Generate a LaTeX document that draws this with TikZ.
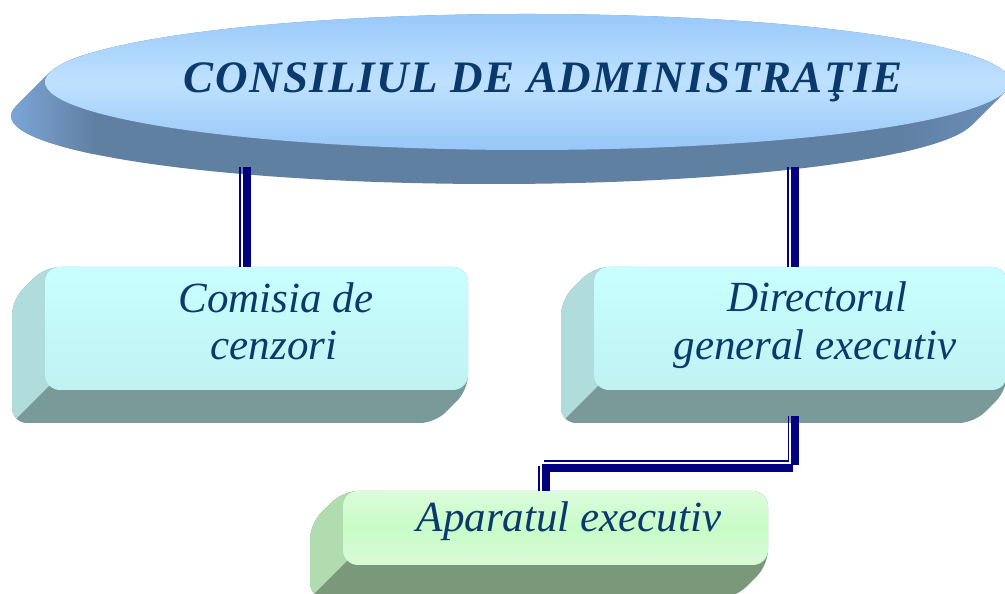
\documentclass[tikz,border=0pt]{standalone}
\usepackage{fontspec}
\setmainfont{Liberation Serif}
\newfontfamily\titlefont[LetterSpace=3.2]{Liberation Serif}
\usetikzlibrary{shapes.geometric,calc}
\definecolor{elTop}{HTML}{98C9F9}
\definecolor{elMid}{HTML}{BFE1FF}
\definecolor{elBot}{HTML}{96C7F8}
\definecolor{elSide}{HTML}{6080A2}
\definecolor{elSideL}{HTML}{7EA8DA}
\definecolor{elSideR}{HTML}{6C90BC}
\definecolor{cyTop}{HTML}{C8FFFF}
\definecolor{cyBot}{HTML}{C0F2F2}
\definecolor{cyLeft}{HTML}{B0DCDC}
\definecolor{cyDown}{HTML}{7A9A9A}
\definecolor{grTop}{HTML}{DAFCDA}
\definecolor{grMid}{HTML}{C8FCC8}
\definecolor{grBot}{HTML}{D8FAD8}
\definecolor{grLeft}{HTML}{B0DCB0}
\definecolor{grDown}{HTML}{7A987A}
\definecolor{txtBlue}{HTML}{0A3A6C}
\definecolor{lineNavy}{HTML}{000080}
\begin{document}
\begin{tikzpicture}[x=1pt,y=1pt,
  facebox/.style={rounded corners=15pt, inner sep=0pt, draw=none},
  cyface/.style={facebox, top color=cyTop, bottom color=cyBot},
  grface/.style={facebox, top color=grTop, bottom color=grBot, middle color=grMid},
  boxtext/.style={text=txtBlue, font=\fontsize{43}{48}\selectfont\itshape, inner sep=0pt, anchor=base},
  titletext/.style={text=txtBlue, font=\titlefont\fontsize{45}{50}\selectfont\bfseries\itshape, inner sep=0pt, anchor=base},
  conthick/.style={draw=lineNavy, line width=8pt},
  conthin/.style={draw=lineNavy, line width=1.8pt}]
\useasboundingbox (0,0) rectangle (1005,594);

% ---- extruded ellipse (side) ----
\fill[elSide] (527.5,512) ++(-8.02:482.5pt and 68pt)
  arc[start angle=-8.02, end angle=171.98, x radius=482.5pt, y radius=68pt]
  -- ++(-34,-34)
  arc[start angle=171.98, end angle=351.98, x radius=482.5pt, y radius=68pt] -- cycle;
\begin{scope}
\clip (527.5,512) ++(-8.02:482.5pt and 68pt)
  arc[start angle=-8.02, end angle=171.98, x radius=482.5pt, y radius=68pt]
  -- ++(-34,-34)
  arc[start angle=171.98, end angle=351.98, x radius=482.5pt, y radius=68pt] -- cycle;
\shade[left color=elSideL, right color=elSide] (5,380) rectangle (95,540);
\shade[left color=elSide, right color=elSideR] (900,380) rectangle (1010,540);
\end{scope}
\node[ellipse, minimum width=965pt, minimum height=136pt, inner sep=0pt, draw=none,
      top color=elTop, bottom color=elBot, middle color=elMid] (cons) at (527.5,512) {};
\node[titletext] (title) at (543,501) {CONSILIUL DE ADMINISTRAŢIE};

% ---- box 1 extrusion ----
\fill[cyDown, rounded corners=15pt] (45,327) -- (468,327) -- (468,204) -- (435,171) -- (12,171) -- (12,294) -- cycle;
\begin{scope}
\clip[rounded corners=15pt] (45,327) -- (468,327) -- (468,204) -- (435,171) -- (12,171) -- (12,294) -- cycle;
\fill[cyLeft] (-20,340) -- (80,340) -- (80,239) -- (-20,139) -- cycle;
\end{scope}
\node[cyface, minimum width=423pt, minimum height=123pt] (com) at (256.5,265.5) {};

% ---- box 2 extrusion ----
\fill[cyDown, rounded corners=15pt] (594,327) -- (1007,327) -- (1007,204) -- (974,171) -- (561,171) -- (561,294) -- cycle;
\begin{scope}
\clip[rounded corners=15pt] (594,327) -- (1007,327) -- (1007,204) -- (974,171) -- (561,171) -- (561,294) -- cycle;
\fill[cyLeft] (530,340) -- (630,340) -- (630,240) -- (530,140) -- cycle;
\end{scope}
\node[cyface, minimum width=413pt, minimum height=123pt] (dir) at (800.5,265.5) {};

% ---- box 3 extrusion ----
\fill[grDown, rounded corners=15pt] (343,103) -- (768,103) -- (768,29) -- (735,-4) -- (310,-4) -- (310,70) -- cycle;
\begin{scope}
\clip[rounded corners=15pt] (343,103) -- (768,103) -- (768,29) -- (735,-4) -- (310,-4) -- (310,70) -- cycle;
\fill[grLeft] (290,120) -- (380,120) -- (380,66) -- (290,-24) -- cycle;
\end{scope}
\node[grface, minimum width=425pt, minimum height=74pt] (apa) at (555.5,66) {};

% ---- texts ----
\node[boxtext] (t1a) at (276,281) {Comisia de};
\node[boxtext] (t1b) at (274,234) {cenzori};
\node[boxtext] (t2a) at (817,282) {Directorul};
\node[boxtext] (t2b) at (815,234) {general executiv};
\node[boxtext] (t3) at (569,62) {Aparatul executiv};

% ---- connectors ----
\coordinate (k1) at (240,427);
\coordinate (k2) at (246.7,427);
\draw[conthin] (k1) -- (k1 |- com.north);
\draw[conthick] (k2) -- (k2 |- com.north);
\coordinate (k3) at (788.3,427);
\coordinate (k4) at (795.3,427);
\draw[conthin] (k3) -- (k3 |- dir.north);
\draw[conthick] (k4) -- (k4 |- dir.north);
\coordinate (m1) at (788.5,178);
\coordinate (m2) at (795,178);
\coordinate (h1) at (544,133);
\coordinate (h2) at (544,125.7);
\draw[conthin] (m1) -- (m1 |- h1) -- (h1);
\draw[conthick] (m2) -- ++(0,-49);
\draw[conthick] (793,125.7) -- (h2);
\coordinate (v1) at (539,128);
\coordinate (v2) at (546,129.7);
\draw[conthin] (v1) -- (v1 |- apa.north);
\draw[conthick] (v2) -- (v2 |- apa.north);
\end{tikzpicture}
\end{document}
